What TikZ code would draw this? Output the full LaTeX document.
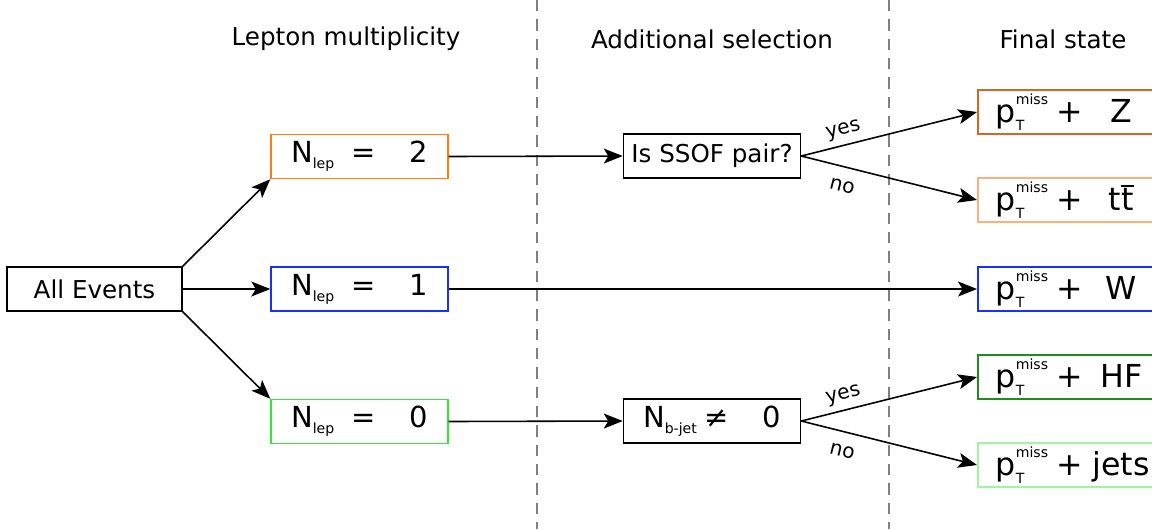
\documentclass[tikz,border=0pt]{standalone}
\usepackage{fontspec}
\setmainfont{DejaVu Sans}
\usetikzlibrary{arrows.meta}
\definecolor{lepTwo}{HTML}{FF7F0E}
\definecolor{lepOne}{HTML}{1530FF}
\definecolor{lepZero}{HTML}{33E833}
\definecolor{finZ}{HTML}{D2691E}
\definecolor{finTT}{HTML}{FFB07A}
\definecolor{finHF}{HTML}{1E8C1E}
\definecolor{finJets}{HTML}{A0F5A0}
\newcommand{\scfont}{\fontsize{8}{8}\selectfont}
\newcommand{\lo}[1]{\raisebox{-3.5pt}{\scfont #1}}
\newcommand{\ptmiss}{p\rlap{\raisebox{10pt}{\scfont miss}}\rlap{\raisebox{-4.5pt}{\scfont T}}\hphantom{\scfont miss}}
\newcommand{\tbar}{t\rlap{\rule[0.74em]{0.39em}{0.055em}}t}
\tikzset{
  box/.style={
    draw,
    line width=0.85pt,
    minimum width=3.54cm,
    minimum height=0.88cm,
    inner sep=0pt,
    font=\fontsize{14}{16}\selectfont
  },
  lepbox/.style={
    box,
    font=\fontsize{16.5}{18}\selectfont
  },
  finbox/.style={
    box,
    anchor=west,
    text width=3.5cm,
    align=left,
    inner xsep=0.36cm,
    font=\fontsize{18}{20}\selectfont
  },
  head/.style={
    font=\fontsize{14}{16}\selectfont
  },
  arrow/.style={
    -{Stealth[length=3.8mm,width=3mm,inset=0.9mm]},
    line width=0.9pt
  },
  sep/.style={
    draw=gray,
    line width=0.75pt,
    dash pattern=on 6.5pt off 4.5pt
  },
  cut/.style={
    font=\fontsize{11.5}{13}\selectfont,
    sloped,
    pos=0.26
  }
}
\begin{document}
\begin{tikzpicture}[x=0.02cm,y=-0.02cm]
  \useasboundingbox (0,0) rectangle (1152,529);

  \coordinate (sepAtop) at (537,0);
  \coordinate (sepAbot) at (537,529);
  \coordinate (sepBtop) at (889,0);
  \coordinate (sepBbot) at (889,529);
  \draw[sep] (sepAtop) -- (sepAbot);
  \draw[sep] (sepBtop) -- (sepBbot);

  \node[head] (hlep) at (346,39) {Lepton multiplicity};
  \node[head] (hsel) at (712,39) {Additional selection};
  \node[head] (hfin) at (1063,39) {Final state};

  \node[box, minimum width=3.5cm] (all) at (94.5,289) {All Events};

  \node[lepbox, draw=lepTwo] (two) at (359.5,156.5) {N\lo{lep}\hspace{10pt}=\hspace{19pt}2};
  \node[lepbox, draw=lepOne] (one) at (359.5,289) {N\lo{lep}\hspace{10pt}=\hspace{19pt}1};
  \node[lepbox, draw=lepZero] (zero) at (359.5,421.5) {N\lo{lep}\hspace{10pt}=\hspace{19pt}0};

  \node[box] (ssof) at (712,156) {Is SSOF pair?};
  \node[lepbox] (bjet) at (712,421) {N\lo{b-jet}\hspace{4.5pt}≠\hspace{19pt}0};

  \node[finbox, draw=finZ] (Z) at (977,112) {\ptmiss\hspace{5pt}+\makebox[2.4em][c]{Z}};
  \node[finbox, draw=finTT] (tt) at (977,200) {\ptmiss\hspace{5pt}+\makebox[2.4em][c]{\tbar}};
  \node[finbox, draw=lepOne] (W) at (977,289) {\ptmiss\hspace{5pt}+\makebox[2.4em][c]{W}};
  \node[finbox, draw=finHF] (HF) at (977,377) {\ptmiss\hspace{5pt}+\makebox[2.4em][c]{HF}};
  \node[finbox, draw=finJets] (jets) at (977,465) {\ptmiss\hspace{5pt}+\makebox[2.4em][c]{jets}};

  \draw[arrow] (all.north east) -- (two.south west);
  \draw[arrow] (all.east) -- (one.west);
  \draw[arrow] (all.south east) -- (zero.north west);

  \draw[arrow] (two.east) -- (ssof.west);
  \draw[arrow] (one.east) -- (W.west);
  \draw[arrow] (zero.east) -- (bjet.west);

  \draw[arrow] (ssof.east) -- node[cut, above] {yes} (Z.west);
  \draw[arrow] (ssof.east) -- node[cut, below=4pt] {no} (tt.west);
  \draw[arrow] (bjet.east) -- node[cut, above] {yes} (HF.west);
  \draw[arrow] (bjet.east) -- node[cut, below=4pt] {no} (jets.west);
\end{tikzpicture}
\end{document}
